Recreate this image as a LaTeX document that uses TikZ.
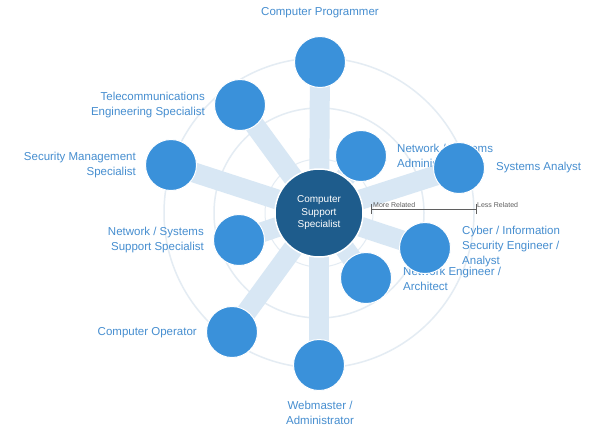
\documentclass[tikz,border=0pt]{standalone}
\usepackage{fontspec}
\setmainfont{Liberation Sans}
\definecolor{nodeblue}{RGB}{58,145,218}
\definecolor{centerblue}{RGB}{30,92,140}
\definecolor{spokeblue}{RGB}{216,231,244}
\definecolor{ringcol}{RGB}{228,236,243}
\definecolor{labelblue}{RGB}{70,142,208}
\definecolor{scalegray}{RGB}{95,95,95}
\begin{document}
\begin{tikzpicture}[x=1pt,y=-1pt,
  job/.style={circle,fill=nodeblue,draw=white,line width=1pt,minimum size=51pt,inner sep=0pt},
  hub/.style={circle,fill=centerblue,draw=white,line width=1.5pt,minimum size=88pt,inner sep=0pt,
    text=white,font=\fontsize{10}{12.5}\selectfont,align=center},
  lbl/.style={text=labelblue,font=\fontsize{11.5}{15}\selectfont,inner sep=0pt},
  spoke/.style={draw=spokeblue,line width=20pt},
  ring/.style={draw=ringcol,line width=1.5pt},
  scalelbl/.style={text=scalegray,font=\fontsize{7}{8}\selectfont,inner sep=0pt,anchor=north west}]
\useasboundingbox[fill=white] (0,0) rectangle (593,429);
% rings
\coordinate (o) at (319,213);
\draw[ring] (o) circle (155);
\draw[ring] (o) circle (105);
\draw[ring,line width=1pt] (o) circle (54);
% job circle positions
\coordinate (p1) at (320,62);
\coordinate (p2) at (361,156);
\coordinate (p3) at (459,168);
\coordinate (p4) at (425,248);
\coordinate (p5) at (366,278);
\coordinate (p6) at (319,365);
\coordinate (p7) at (232,332);
\coordinate (p8) at (239,240);
\coordinate (p9) at (171,165);
\coordinate (p10) at (240,105);
% spokes
\foreach \i in {1,...,10} \draw[spoke] (o) -- (p\i);
% labels
\node[lbl,anchor=center] (l1) at (320,13) {Computer Programmer};
\node[lbl,anchor=west,align=left] (l2) at (397,156) {Network / Systems\\Administrator};
\node[lbl,anchor=west] (l3) at (496,168) {Systems Analyst};
\node[lbl,anchor=west,align=left] (l4) at (462,247) {Cyber / Information\\Security Engineer /\\Analyst};
\node[lbl,anchor=west,align=left] (l5) at (403,279) {Network Engineer /\\Architect};
\node[lbl,anchor=center,align=center] (l6) at (320,413) {Webmaster /\\Administrator};
\node[lbl,anchor=east] (l7) at (197,333) {Computer Operator};
\node[lbl,anchor=east,align=right] (l8) at (204,240) {Network / Systems\\Support Specialist};
\node[lbl,anchor=east,align=right] (l9) at (136,165) {Security Management\\Specialist};
\node[lbl,anchor=east,align=right] (l10) at (205,105) {Telecommunications\\Engineering Specialist};
% circles
\foreach \i in {1,...,10} \node[job] (n\i) at (p\i) {};
\node[hub] (c) at (o) {Computer\\Support\\Specialist};
% scale
\coordinate (s1) at (371,209);
\coordinate (s2) at (476,209);
\draw[scalegray,line width=1pt] (s1) -- (s2);
\draw[scalegray,line width=0.8pt] ([yshift=-5]s1) -- ([yshift=5]s1);
\draw[scalegray,line width=0.8pt] ([yshift=-5]s2) -- ([yshift=5]s2);
\node[scalelbl] (m1) at ([xshift=2,yshift=7]s1) {More Related};
\node[scalelbl] (m2) at ([xshift=1,yshift=7]s2) {Less Related};
\end{tikzpicture}
\end{document}
